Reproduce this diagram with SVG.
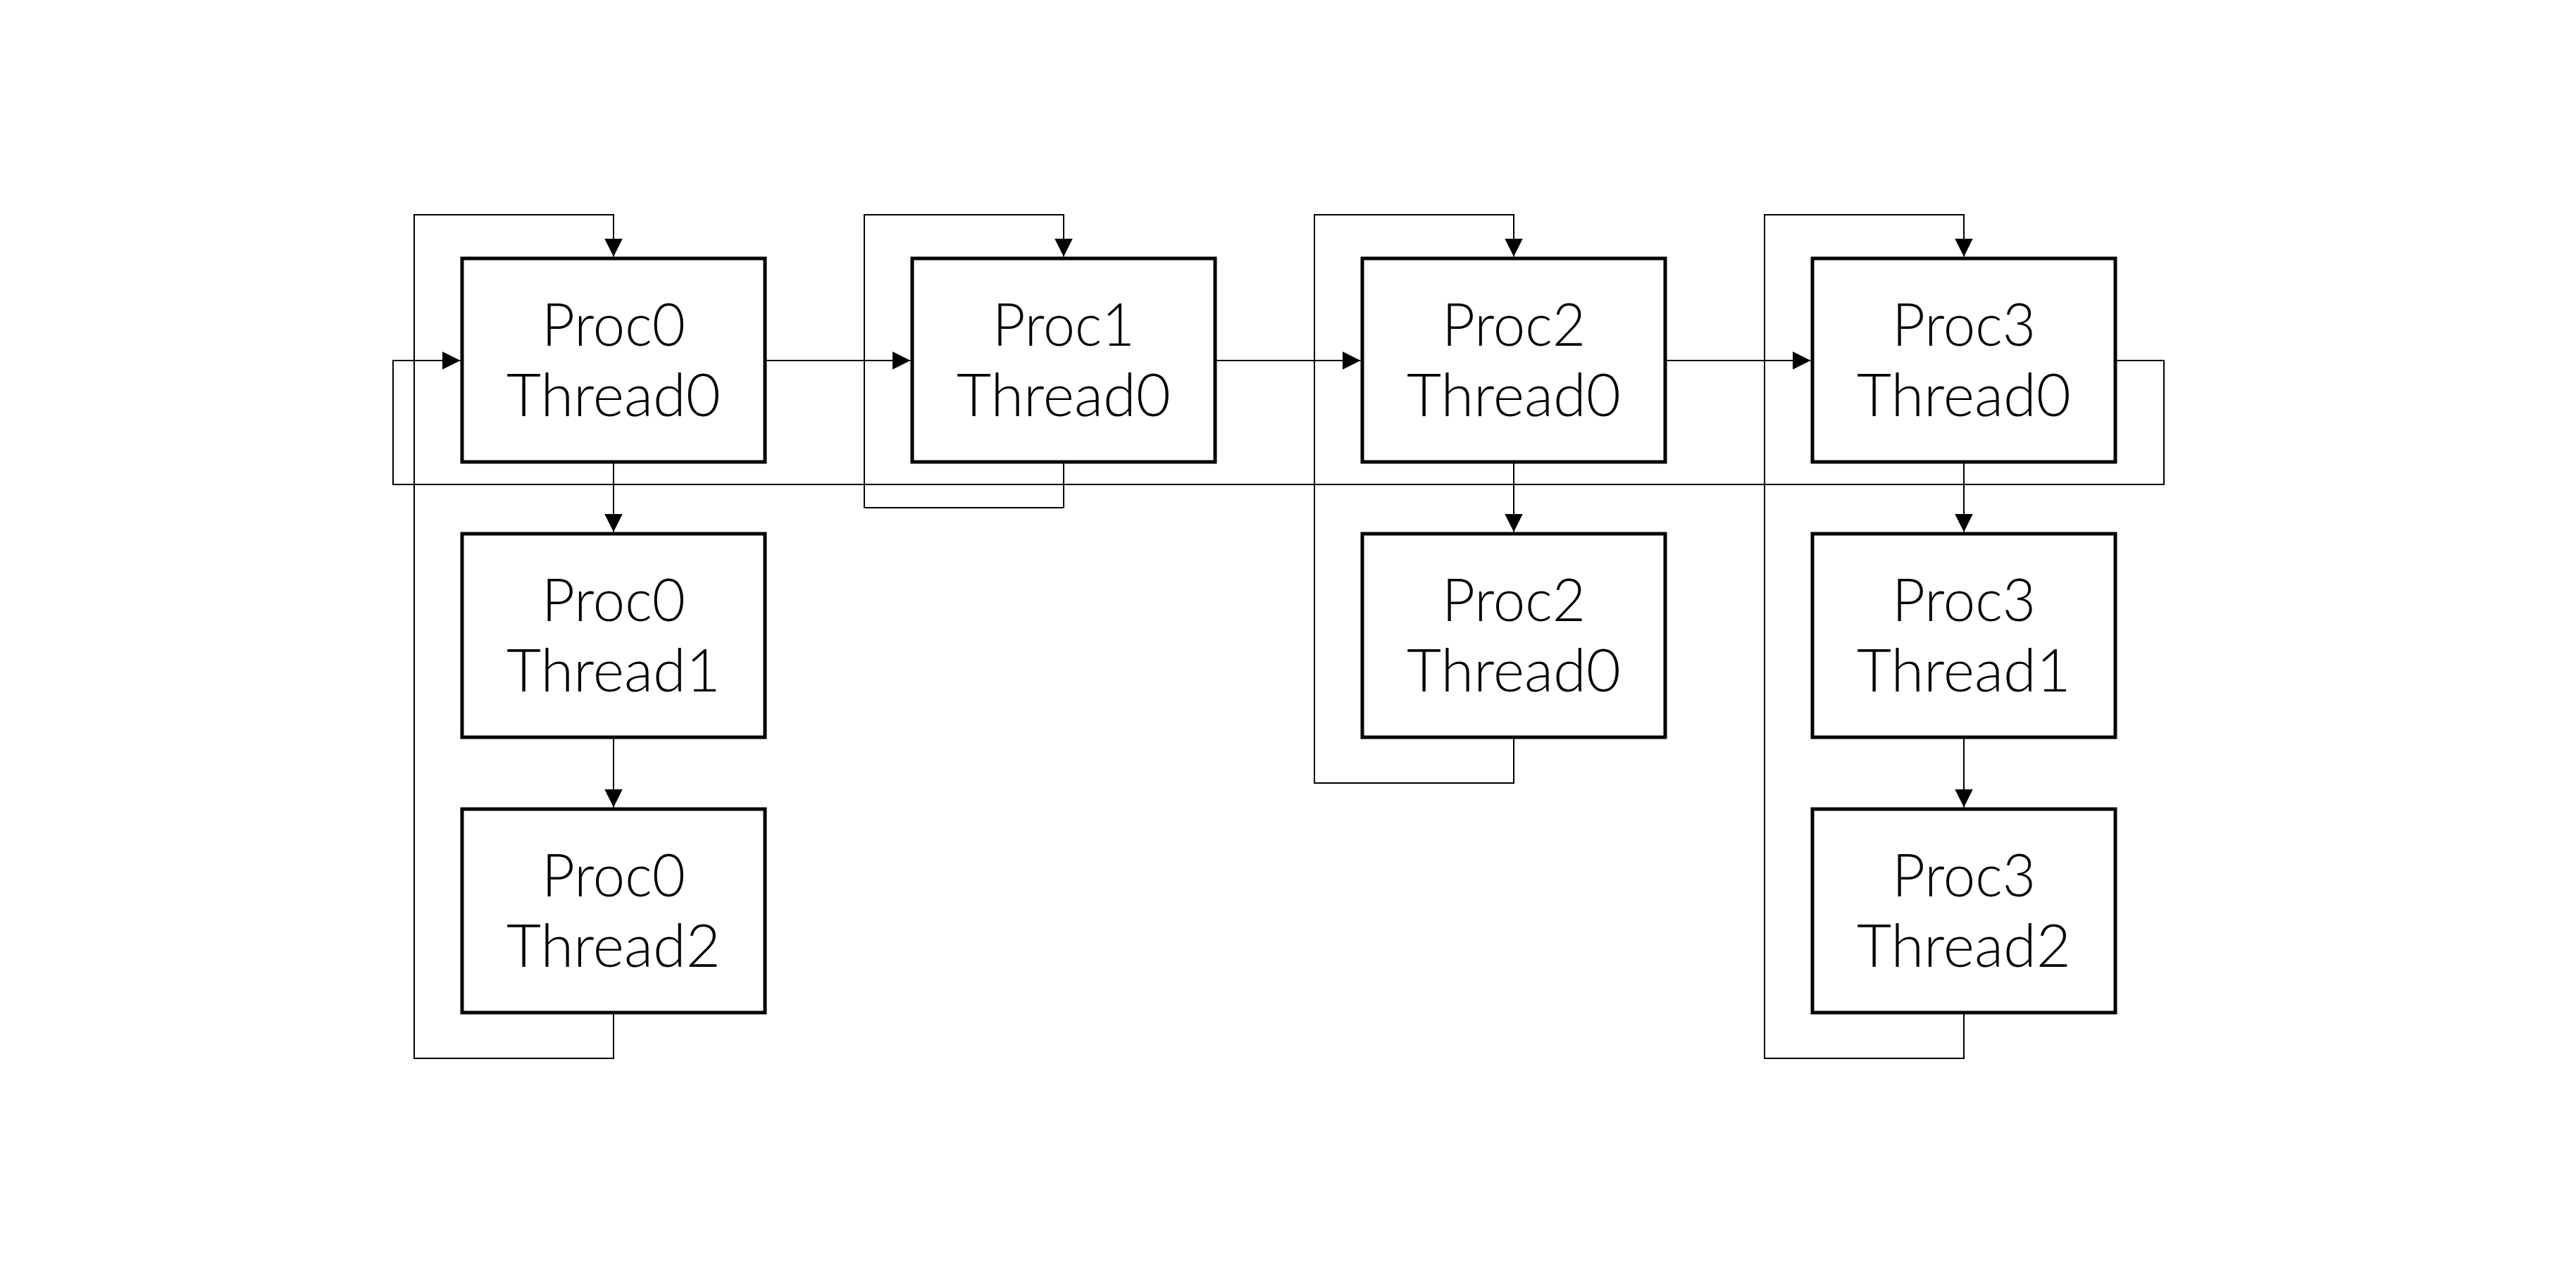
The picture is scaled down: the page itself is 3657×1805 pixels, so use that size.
<svg xmlns="http://www.w3.org/2000/svg" width="3657" height="1805" viewBox="0 0 3657 1805">
<style>
.box{fill:#fff;stroke:#000;stroke-width:5}
.lbl{font-family:Lato,"Source Sans Pro","Noto Sans","Liberation Sans",sans-serif;font-weight:300;font-size:85px;fill:#000;text-anchor:middle}
.wire{fill:none;stroke:#000;stroke-width:2}
.arr{marker-end:url(#ah)}
</style>
<defs>
<marker id="ah" markerUnits="userSpaceOnUse" markerWidth="26" markerHeight="26" refX="26" refY="13" orient="auto">
<path d="M0,0 L26,13 L0,26 z" fill="#000"/>
</marker>
</defs>
<rect x="0" y="0" width="3657" height="1805" fill="#fff"/>
<g id="connectors">
<path class="wire arr" d="M871,1438 V1503 H588 V305 H871 V364.5"/>
<path class="wire arr" d="M1510,656 V721 H1227 V305 H1510 V364.5"/>
<path class="wire arr" d="M2149,1047 V1112 H1866 V305 H2149 V364.5"/>
<path class="wire arr" d="M2788,1438 V1503 H2505 V305 H2788 V364.5"/>
<path class="wire arr" d="M871,656 V755.5"/>
<path class="wire arr" d="M871,1047 V1146.5"/>
<path class="wire arr" d="M2149,656 V755.5"/>
<path class="wire arr" d="M2788,656 V755.5"/>
<path class="wire arr" d="M2788,1047 V1146.5"/>
<path class="wire arr" d="M1086,512 H1292.5"/>
<path class="wire arr" d="M1725,512 H1931.5"/>
<path class="wire arr" d="M2364,512 H2570.5"/>
<path class="wire arr" d="M3003,512 H3072 V688 H558 V512 H653.5"/>
</g>
<g id="p0t0"><rect class="box" x="656" y="367" width="430" height="289"/><text class="lbl" x="871" y="491" textLength="204" lengthAdjust="spacingAndGlyphs">Proc0</text><text class="lbl" x="871" y="591" textLength="304" lengthAdjust="spacingAndGlyphs">Thread0</text></g>
<g id="p0t1"><rect class="box" x="656" y="758" width="430" height="289"/><text class="lbl" x="871" y="882" textLength="204" lengthAdjust="spacingAndGlyphs">Proc0</text><text class="lbl" x="871" y="982" textLength="304" lengthAdjust="spacingAndGlyphs">Thread1</text></g>
<g id="p0t2"><rect class="box" x="656" y="1149" width="430" height="289"/><text class="lbl" x="871" y="1273" textLength="204" lengthAdjust="spacingAndGlyphs">Proc0</text><text class="lbl" x="871" y="1373" textLength="304" lengthAdjust="spacingAndGlyphs">Thread2</text></g>
<g id="p1t0"><rect class="box" x="1295" y="367" width="430" height="289"/><text class="lbl" x="1510" y="491" textLength="202" lengthAdjust="spacingAndGlyphs">Proc1</text><text class="lbl" x="1510" y="591" textLength="304" lengthAdjust="spacingAndGlyphs">Thread0</text></g>
<g id="p2t0"><rect class="box" x="1934" y="367" width="430" height="289"/><text class="lbl" x="2149" y="491" textLength="204" lengthAdjust="spacingAndGlyphs">Proc2</text><text class="lbl" x="2149" y="591" textLength="304" lengthAdjust="spacingAndGlyphs">Thread0</text></g>
<g id="p2t0b"><rect class="box" x="1934" y="758" width="430" height="289"/><text class="lbl" x="2149" y="882" textLength="204" lengthAdjust="spacingAndGlyphs">Proc2</text><text class="lbl" x="2149" y="982" textLength="304" lengthAdjust="spacingAndGlyphs">Thread0</text></g>
<g id="p3t0"><rect class="box" x="2573" y="367" width="430" height="289"/><text class="lbl" x="2788" y="491" textLength="204" lengthAdjust="spacingAndGlyphs">Proc3</text><text class="lbl" x="2788" y="591" textLength="304" lengthAdjust="spacingAndGlyphs">Thread0</text></g>
<g id="p3t1"><rect class="box" x="2573" y="758" width="430" height="289"/><text class="lbl" x="2788" y="882" textLength="204" lengthAdjust="spacingAndGlyphs">Proc3</text><text class="lbl" x="2788" y="982" textLength="304" lengthAdjust="spacingAndGlyphs">Thread1</text></g>
<g id="p3t2"><rect class="box" x="2573" y="1149" width="430" height="289"/><text class="lbl" x="2788" y="1273" textLength="204" lengthAdjust="spacingAndGlyphs">Proc3</text><text class="lbl" x="2788" y="1373" textLength="304" lengthAdjust="spacingAndGlyphs">Thread2</text></g>
</svg>
